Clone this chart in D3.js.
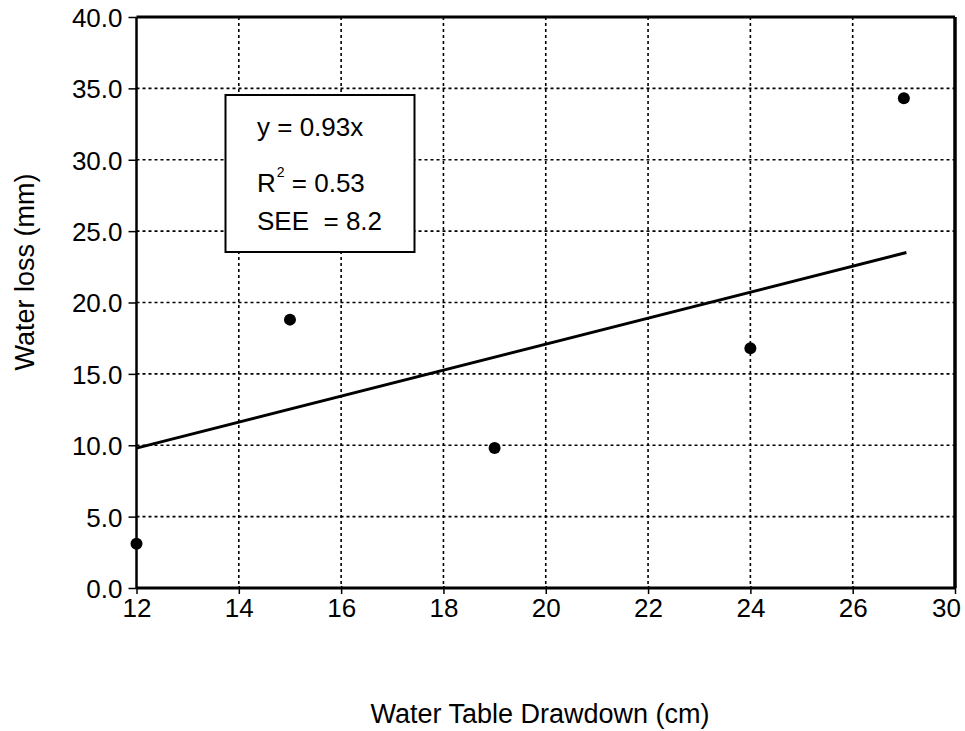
<!DOCTYPE html>
<html><head><meta charset="utf-8">
<script src="https://cdn.jsdelivr.net/npm/d3@7"></script>
<style>body{margin:0;background:#fff}svg{display:block}text{font-family:"Liberation Sans",Arial,sans-serif;fill:#000}</style>
</head><body><svg id="c" width="965" height="731"></svg>
<script>
const drawdown = [12, 15, 19, 24, 27];
const waterLoss = [3.1, 18.8, 9.8, 16.8, 34.3];
const fitX = [12, 27.05];
const fitY = [9.8, 23.5];
const xTickValues = [12, 14, 16, 18, 20, 22, 24, 26, 28];
const xTickLabels = ["12", "14", "16", "18", "20", "22", "24", "26", "30"];
const yTickValues = [0, 5, 10, 15, 20, 25, 30, 35, 40];
const statLines = ["y = 0.93x", "R2 = 0.53", "SEE  = 8.2"];

const svg = d3.select("#c");
const L = 136.5, R = 955, T = 17, B = 588;
const x = d3.scaleLinear().domain([12, 28]).range([L, R]);
const y = d3.scaleLinear().domain([0, 40]).range([B, T]);
const FF = "Liberation Sans, Arial, sans-serif";

// grid
svg.append("g").selectAll("line").data(yTickValues.filter(v => v > 0 && v < 40)).join("line")
  .attr("x1", L).attr("x2", R).attr("y1", d => y(d)).attr("y2", d => y(d))
  .attr("stroke", "#000").attr("stroke-width", 1.6).attr("stroke-dasharray", "3,3");
svg.append("g").selectAll("line").data(xTickValues.filter(v => v > 12 && v < 28)).join("line")
  .attr("y1", T).attr("y2", B).attr("x1", d => x(d)).attr("x2", d => x(d))
  .attr("stroke", "#000").attr("stroke-width", 1.6).attr("stroke-dasharray", "3,3");

// axes
const xAxis = d3.axisBottom(x).tickValues(xTickValues).tickSize(6).tickSizeOuter(0)
  .tickFormat((d, i) => xTickLabels[i]);
const gx = svg.append("g").attr("transform", `translate(0,${B})`).call(xAxis);
gx.attr("font-size", null).attr("font-family", null);
gx.select(".domain").remove();
gx.selectAll(".tick line").attr("stroke", "#000").attr("stroke-width", 1.5).attr("y1", -2);
gx.selectAll(".tick text").attr("font-size", 26).attr("dy", null).attr("y", 29)
  .style("font-family", FF);
gx.selectAll(".tick text").filter((d, i) => i === xTickValues.length - 1).attr("dx", -9);

const yAxis = d3.axisLeft(y).tickValues(yTickValues).tickSize(8).tickSizeOuter(0)
  .tickFormat(d3.format(".1f"));
const gy = svg.append("g").attr("transform", `translate(${L},0)`).call(yAxis);
gy.attr("font-size", null).attr("font-family", null);
gy.select(".domain").remove();
gy.selectAll(".tick line").attr("stroke", "#000").attr("stroke-width", 1.5);
gy.selectAll(".tick text").attr("font-size", 26).attr("x", -14).attr("dy", "0.36em")
  .style("font-family", FF);

// frame
svg.append("line").attr("x1", L).attr("x2", R).attr("y1", T).attr("y2", T).attr("stroke", "#000").attr("stroke-width", 3);
svg.append("line").attr("x1", L).attr("x2", R).attr("y1", B).attr("y2", B).attr("stroke", "#000").attr("stroke-width", 3);
svg.append("line").attr("x1", L).attr("x2", L).attr("y1", T).attr("y2", B).attr("stroke", "#000").attr("stroke-width", 2.5);
svg.append("line").attr("x1", R).attr("x2", R).attr("y1", T).attr("y2", B).attr("stroke", "#000").attr("stroke-width", 3.5);

// fit line
svg.append("line").attr("x1", x(fitX[0])).attr("y1", y(fitY[0])).attr("x2", x(fitX[1])).attr("y2", y(fitY[1]))
  .attr("stroke", "#000").attr("stroke-width", 3);

// points
svg.append("g").selectAll("circle").data(drawdown).join("circle")
  .attr("cx", d => x(d)).attr("cy", (d, i) => y(waterLoss[i])).attr("r", 6).attr("fill", "#000");

// stats box
const box = svg.append("g");
box.append("rect").attr("x", 225.5).attr("y", 95).attr("width", 189).attr("height", 157)
  .attr("fill", "#fff").attr("stroke", "#000").attr("stroke-width", 2);
box.append("text").attr("x", 257).attr("y", 136).attr("font-size", 26).text(statLines[0]);
const r2 = box.append("text").attr("x", 257).attr("y", 192).attr("font-size", 26);
r2.append("tspan").text("R");
r2.append("tspan").attr("font-size", 14).attr("dy", -15).attr("dx", 1).text("2");
r2.append("tspan").attr("dy", 15).text(statLines[1].slice(2));
box.append("text").attr("x", 257).attr("y", 230).attr("font-size", 26)
  .style("white-space", "pre").text(statLines[2]);

// axis titles
svg.append("text").attr("x", 540).attr("y", 723).attr("text-anchor", "middle").attr("font-size", 27)
  .text("Water Table Drawdown (cm)");
svg.append("text").attr("transform", "translate(34,272) rotate(-90)").attr("text-anchor", "middle").attr("font-size", 27)
  .text("Water loss (mm)");
</script></body></html>
